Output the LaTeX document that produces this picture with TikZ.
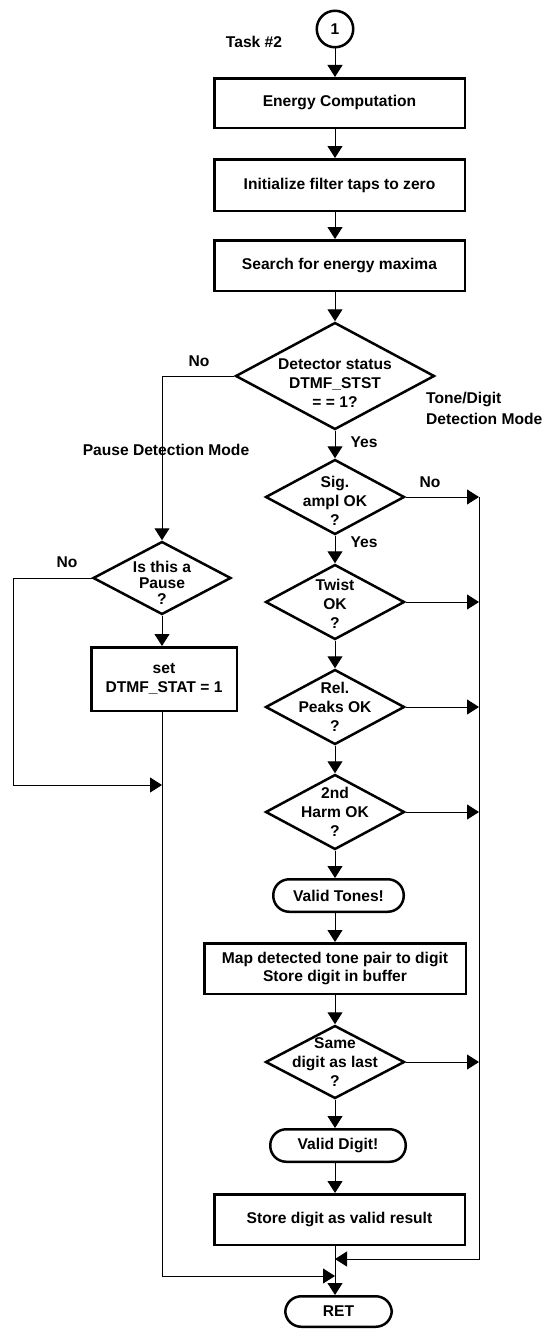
\documentclass[tikz,border=0pt]{standalone}
\usepackage{fontspec}
\setmainfont{Liberation Sans}
\usetikzlibrary{shapes.geometric,arrows.meta}
\begin{document}
\begin{tikzpicture}[x=1pt,y=-1pt,
  font=\bfseries\fontsize{15.6}{19}\selectfont,
  every node/.style={inner sep=0pt, align=center},
  box/.style={draw, line width=2.5pt, rectangle},
  dec/.style={draw, line width=2.5pt, diamond},
  term/.style={draw, line width=2.5pt, rectangle, rounded corners=16pt},
  conn/.style={line width=1pt, -{Triangle[length=12pt,width=15pt]}},
  wire/.style={line width=1pt},
  lbl/.style={anchor=base},
  line join=miter
]
\useasboundingbox (0,0) rectangle (546,1330);
\coordinate (colx) at (335,0);
\coordinate (rb) at (479,1259);
\coordinate (lb) at (13,785);
\coordinate (mb) at (335,1276);

% main column
\node[draw, circle, line width=2.5pt, minimum size=36.5pt] (c1) at (335,29) {1};
\node[lbl] (task) at (254,47.5) {Task \#2};
\node[box, minimum width=250.5pt, minimum height=49.5pt] (energy) at (339.5,103) {Energy Computation};
\node[box, minimum width=250.5pt, minimum height=51.5pt] (init) at (339.5,185) {Initialize filter taps to zero};
\node[box, minimum width=250.5pt, minimum height=50.5pt] (search) at (339.5,265.5) {Search for energy maxima};
\node[dec, minimum width=199pt, minimum height=107pt,
  label={[yshift=-7pt]center:{Detector status\\DTMF\_STST\\= = 1?}}] (d1) at (335,376) {};
\node[dec, minimum width=139pt, minimum height=75pt,
  label={[yshift=-4pt]center:{Sig.\\ampl OK\\?}}] (sig) at (335,497) {};
\node[dec, minimum width=139pt, minimum height=75pt,
  label={[yshift=-2pt]center:{Twist\\OK\\?}}] (twist) at (335,602) {};
\node[dec, minimum width=139pt, minimum height=75pt,
  label={center:{Rel.\\Peaks OK\\?}}] (rel) at (335,707) {};
\node[dec, minimum width=139pt, minimum height=75pt,
  label={center:{2nd\\Harm OK\\?}}] (harm) at (335,812) {};
\node[term, minimum width=130.5pt, minimum height=32.5pt] (vtones) at (338.5,895.5) {Valid Tones!};
\node[box, minimum width=261.5pt, minimum height=50.5pt, font=\bfseries\fontsize{15.6}{18}\selectfont] (map) at (335,968.5) {Map detected tone pair to digit\\Store digit in buffer};
\node[dec, minimum width=139pt, minimum height=73pt,
  label={center:{Same\\digit as last\\?}}] (same) at (335,1062) {};
\node[term, minimum width=135.5pt, minimum height=32.5pt] (vdigit) at (338,1145.5) {Valid Digit!};
\node[box, minimum width=250.5pt, minimum height=50.5pt] (store) at (339.5,1219.5) {Store digit as valid result};
\node[term, minimum width=106.5pt, minimum height=30.5pt] (ret) at (338.5,1311.5) {RET};

% left column
\node[dec, minimum width=138pt, minimum height=73pt,
  label={[font=\bfseries\fontsize{15.6}{16}\selectfont, yshift=-5pt]center:{Is this a\\Pause\\?}}] (pause) at (162,578) {};
\node[box, minimum width=145.5pt, minimum height=63.5pt] (set) at (164,679) {set\\DTMF\_STAT = 1};

% labels
\node[lbl] (no1) at (199,366) {No};
\node[lbl] (pdm) at (166,455.5) {Pause Detection Mode};
\node[anchor=base west, align=left, font=\bfseries\fontsize{15.6}{20.5}\selectfont] (tdm) at (426,424) {Tone/Digit\\Detection Mode};
\node[lbl] (yes1) at (364,447) {Yes};
\node[lbl] (no2) at (430,487) {No};
\node[lbl] (yes2) at (364,547) {Yes};
\node[lbl] (no3) at (67,567) {No};

% connectors main
\draw[conn] (c1) -- (c1 |- energy.north);
\draw[conn] (energy.south -| colx) -- (init.north -| colx);
\draw[conn] (init.south -| colx) -- (search.north -| colx);
\draw[conn] (search.south -| colx) -- (d1.north);
\draw[conn] (d1.south) -- (sig.north);
\draw[conn] (sig.south) -- (twist.north);
\draw[conn] (twist.south) -- (rel.north);
\draw[conn] (rel.south) -- (harm.north);
\draw[conn] (harm.south) -- (vtones.north -| colx);
\draw[conn] (vtones.south -| colx) -- (map.north);
\draw[conn] (map.south) -- (same.north);
\draw[conn] (same.south) -- (vdigit.north -| colx);
\draw[conn] (vdigit.south -| colx) -- (store.north -| colx);
\draw[conn] (store.south -| colx) -- (ret.north -| colx);

% right side
\draw[conn] (sig.east) -- (sig.east -| rb);
\draw[conn] (twist.east) -- (twist.east -| rb);
\draw[conn] (rel.east) -- (rel.east -| rb);
\draw[conn] (harm.east) -- (harm.east -| rb);
\draw[conn] (same.east) -- (same.east -| rb);
\draw[conn] (sig.east -| rb) -- (rb) -- (rb -| colx);

% left side
\draw[conn] (d1.west) -| (pause.north);
\draw[conn] (pause.south) -- (pause.south |- set.north);
\draw[conn] (pause.west) -| (lb) -- (lb -| pause);
\draw[conn] (set.south -| pause) |- (mb);
\end{tikzpicture}
\end{document}
